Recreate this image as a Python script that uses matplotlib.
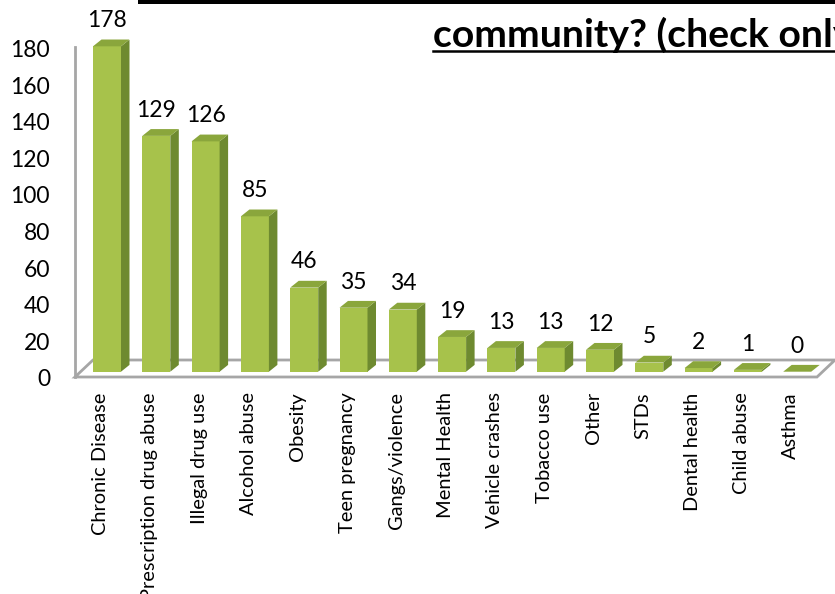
import matplotlib
matplotlib.use("Agg")
import matplotlib.pyplot as plt
from matplotlib.patches import Polygon
from matplotlib.lines import Line2D
from matplotlib.transforms import ScaledTranslation

plt.rcParams['font.family'] = ['Lato', 'DejaVu Sans']

categories = ['Chronic Disease', 'Prescription drug abuse', 'Illegal drug use',
              'Alcohol abuse', 'Obesity', 'Teen pregnancy', 'Gangs/violence',
              'Mental Health', 'Vehicle crashes', 'Tobacco use', 'Other', 'STDs',
              'Dental health', 'Child abuse', 'Asthma']
counts = [178, 129, 126, 85, 46, 35, 34, 19, 13, 13, 12, 5, 2, 1, 0]
y_ticks = list(range(0, 181, 20))
title = 'community? (check only one)'

FRONT = '#a7c24b'
SIDE = '#6e8a30'
TOP = '#8aa63c'
EDGE = '#a6a6a6'

W, H, DPI = 835, 594, 100
fig = plt.figure(figsize=(W / DPI, H / DPI), dpi=DPI, facecolor='white')

# axes box in pixels: x px = 107 + 49.3*i, y px (from top) = 371.7 - 1.828*v
px_x, px_y = 49.3, 1.828
left_px, right_px, top_px, bot_px = 75, 835, 40, 377
ax = fig.add_axes([left_px / W, (H - bot_px) / H,
                   (right_px - left_px) / W, (bot_px - top_px) / H])
ax.set_xlim((left_px - 107) / px_x, (right_px - 107) / px_x)
ax.set_ylim((371.7 - bot_px) / px_y, (371.7 - top_px) / px_y)
for s in ax.spines.values():
    s.set_visible(False)

# depth of the floor and of the bars, in data units
fdx, fdy = 18 / px_x, 17 / px_y
bdx, bdy = 8.5 / px_x, 6.8 / px_y
x0, x1 = ax.get_xlim()
y0 = ax.get_ylim()[0]
floor_right = (817 - 107) / px_x

floor = Polygon([(x0, y0), (floor_right, y0), (floor_right + fdx, y0 + fdy),
                 (x0 + fdx, y0 + fdy)], closed=True, facecolor='white',
                edgecolor=EDGE, lw=2, zorder=1, clip_on=False)
ax.add_patch(floor)
wall_top = (371.7 - 47) / px_y
ax.add_line(Line2D([x0, x0], [y0, wall_top], color=EDGE, lw=2, zorder=1,
                   clip_on=False))

bw = 28 / px_x
xs = list(range(len(counts)))
ax.bar(xs, counts, width=bw, color=FRONT, zorder=3, linewidth=0)
for x, v in zip(xs, counts):
    r = x + bw / 2
    l = x - bw / 2
    ax.add_patch(Polygon([(r, 0), (r + bdx, bdy), (r + bdx, v + bdy), (r, v)],
                         closed=True, facecolor=SIDE, lw=0, zorder=3))
    ax.add_patch(Polygon([(l, v), (r, v), (r + bdx, v + bdy), (l + bdx, v + bdy)],
                         closed=True, facecolor=TOP, lw=0, zorder=3,
                         clip_on=False))
    ax.annotate(str(v), (x, v), xytext=(0, 18.5), textcoords='offset points',
                ha='center', va='center', fontsize=16.5, annotation_clip=False)

ax.set_yticks(y_ticks)
ax.set_yticklabels([str(t) for t in y_ticks], fontsize=16.5)
ax.tick_params(axis='y', length=0, pad=18)
shift_y = ScaledTranslation(0, -6 / DPI, fig.dpi_scale_trans)
for lab in ax.get_yticklabels():
    lab.set_transform(lab.get_transform() + shift_y)

ax.set_xticks(xs)
ax.set_xticklabels(categories, rotation=90, fontsize=14.4)
ax.tick_params(axis='x', length=0, pad=11)
shift_x = ScaledTranslation(-6.5 / DPI, 0, fig.dpi_scale_trans)
for lab in ax.get_xticklabels():
    lab.set_transform(lab.get_transform() + shift_x)

# black rule along the top edge
fig.add_artist(plt.Rectangle((138 / W, 1 - 4 / H), 1, 4 / H, color='black',
                             transform=fig.transFigure, lw=0))

t = fig.text(433 / W, 1 - 47 / H, title, fontsize=28.2, fontweight='bold',
             ha='left', va='baseline')
fig.canvas.draw()
bb = t.get_window_extent()
uy = 1 - 50.5 / H
fig.add_artist(Line2D([bb.x0 / W, bb.x1 / W], [uy, uy], color='black', lw=1.8,
                      transform=fig.transFigure))

fig.savefig('out.png', dpi=DPI, facecolor='white')
